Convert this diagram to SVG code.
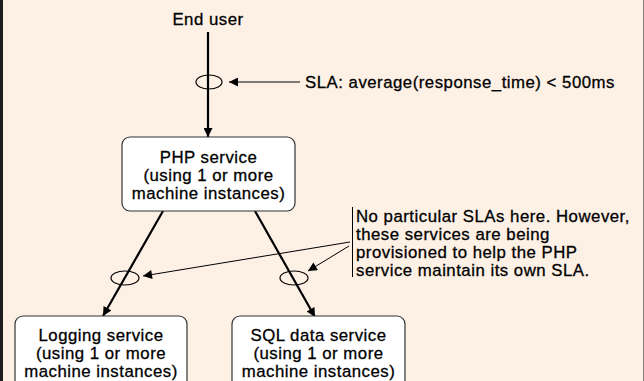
<svg xmlns="http://www.w3.org/2000/svg" width="644" height="381" viewBox="0 0 644 381">
<defs>
<marker id="ah" viewBox="0 0 10 10" refX="10" refY="5" markerWidth="15" markerHeight="9" markerUnits="userSpaceOnUse" orient="auto"><path d="M0,0 L10,5 L0,10 z" fill="#000"/></marker>
<marker id="ahs" viewBox="0 0 10 10" refX="10" refY="5" markerWidth="15" markerHeight="9" markerUnits="userSpaceOnUse" orient="auto"><path d="M0,0 L10,5 L0,10 z" fill="#000"/></marker>
<style>
text{font-family:"Liberation Sans",Arial,sans-serif;font-size:16.8px;letter-spacing:0.5px;fill:#000;stroke:#000;stroke-width:0.3}
.c{text-anchor:middle}
.box{fill:#fff;stroke:#333;stroke-width:1.2}
.main{stroke:#000;stroke-width:2.2;fill:none}
.thin{stroke:#000;stroke-width:1;fill:none}
.ell{fill:none;stroke:#000;stroke-width:1.2}
</style>
</defs>
<rect width="644" height="381" fill="#fdf1e6"/>
<rect x="0" y="0" width="3" height="381" fill="#1e1e1e"/>
<line x1="643.5" y1="0" x2="643.5" y2="381" stroke="#8a8480" stroke-width="1"/>

<g id="connectors">
<line class="main" x1="208" y1="32" x2="208" y2="137" marker-end="url(#ah)"/>
<line class="main" x1="163" y1="211" x2="103" y2="316" marker-end="url(#ah)"/>
<line class="main" x1="255" y1="211" x2="315" y2="317" marker-end="url(#ah)"/>
<ellipse class="ell" cx="209" cy="82" rx="13" ry="7"/>
<ellipse class="ell" cx="125" cy="278" rx="14" ry="7"/>
<ellipse class="ell" cx="294" cy="278" rx="14" ry="7"/>
<line class="thin" x1="300" y1="82" x2="229" y2="82" marker-end="url(#ahs)"/>
<line class="thin" x1="350" y1="242" x2="143" y2="276" marker-end="url(#ahs)"/>
<line class="thin" x1="349" y1="246" x2="308" y2="271" marker-end="url(#ahs)"/>
<line class="thin" x1="352.5" y1="207" x2="352.5" y2="277"/>
</g>

<g id="end-user">
<text class="c" x="208" y="25">End user</text>
</g>
<g id="sla-label">
<text x="305" y="88">SLA: average(response_time) &lt; 500ms</text>
</g>
<g id="php-service">
<rect class="box" x="122" y="137" width="173" height="74" rx="8"/>
<text class="c" x="208.5" y="163">PHP service</text>
<text class="c" x="208.5" y="181">(using 1 or more</text>
<text class="c" x="208.5" y="199">machine instances)</text>
</g>
<g id="note">
<text x="356" y="222">No particular SLAs here. However,</text>
<text x="356" y="240">these services are being</text>
<text x="356" y="258">provisioned to help the PHP</text>
<text x="356" y="276">service maintain its own SLA.</text>
</g>
<g id="logging-service">
<rect class="box" x="15" y="316" width="172" height="80" rx="8"/>
<text class="c" x="101" y="341">Logging service</text>
<text class="c" x="101" y="359">(using 1 or more</text>
<text class="c" x="101" y="377">machine instances)</text>
</g>
<g id="sql-service">
<rect class="box" x="232" y="316" width="173" height="80" rx="8"/>
<text class="c" x="318.5" y="341">SQL data service</text>
<text class="c" x="318.5" y="359">(using 1 or more</text>
<text class="c" x="318.5" y="377">machine instances)</text>
</g>
</svg>
